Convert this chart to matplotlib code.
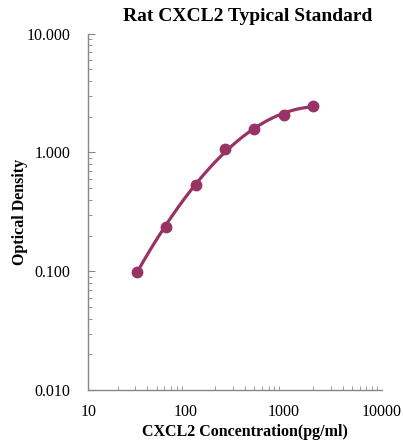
import numpy as np
import matplotlib.pyplot as plt
from matplotlib.ticker import LogLocator, FixedLocator, NullFormatter

# standard curve data
conc = [31.25, 62.5, 125, 250, 500, 1000, 2000]
od = [0.0986, 0.237, 0.537, 1.06, 1.58, 2.07, 2.46]
x_ticks = [10, 100, 1000, 10000]
x_labels = ['10', '100', '1000', '10000']
y_ticks = [0.01, 0.1, 1, 10]
y_labels = ['0.010', '0.100', '1.000', '10.000']

color = '#993366'
axis_color = '#888888'
plt.rcParams['font.family'] = ['Liberation Serif', 'DejaVu Serif']

fig = plt.figure(figsize=(4.03, 4.41), dpi=100)
ax = fig.add_axes([0.219, 0.115, 0.728, 0.809])

# smooth fitted curve in log-log space
lx = np.log10(conc)
ly = np.log10(od)
coef = np.polyfit(lx, ly, 3)
xs = np.linspace(lx[0], lx[-1], 200)
ax.plot(10 ** xs, 10 ** np.polyval(coef, xs), color=color, lw=2.3, zorder=2)
ax.plot(conc, od, 'o', color=color, ms=7.5, zorder=3)

ax.set_xscale('log')
ax.set_yscale('log')
ax.set_xlim(10, 10000)
ax.set_ylim(0.01, 10)

ax.xaxis.set_major_locator(FixedLocator(x_ticks))
ax.set_xticklabels(x_labels)
ax.yaxis.set_major_locator(FixedLocator(y_ticks))
ax.set_yticklabels(y_labels)
ax.xaxis.set_minor_locator(LogLocator(base=10, subs=np.arange(2, 10)))
ax.yaxis.set_minor_locator(LogLocator(base=10, subs=np.arange(2, 10)))
ax.xaxis.set_minor_formatter(NullFormatter())
ax.yaxis.set_minor_formatter(NullFormatter())

ax.tick_params(which='both', direction='in', color=axis_color, labelsize=11.5, labelcolor='black')
ax.tick_params(which='major', length=5, pad=13)
ax.tick_params(which='minor', length=3)
ax.tick_params(axis='x', which='major', length=0, pad=10)

for side in ['top', 'right']:
    ax.spines[side].set_visible(False)
for side in ['left', 'bottom']:
    ax.spines[side].set_color(axis_color)
    ax.spines[side].set_linewidth(1.0)

ax.set_title('Rat CXCL2 Typical Standard', fontsize=14, fontweight='bold', pad=9, x=0.545)
ax.set_xlabel('CXCL2 Concentration(pg/ml)', fontsize=11.5, fontweight='bold')
ax.xaxis.set_label_coords(0.535, -0.095)
ax.set_ylabel('Optical Density', fontsize=11.5, fontweight='bold')
ax.yaxis.set_label_coords(-0.205, 0.5)

fig.savefig('out.png', dpi=100)
